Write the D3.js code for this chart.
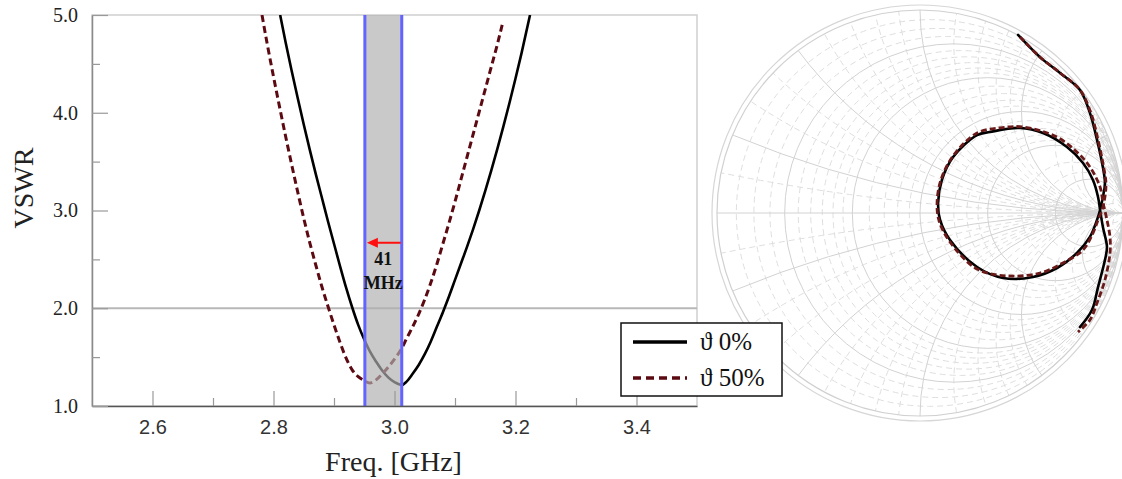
<!DOCTYPE html>
<html>
<head>
<meta charset="utf-8">
<script src="https://cdn.jsdelivr.net/npm/d3@7/dist/d3.min.js"></script>
<style>
  body { margin: 0; background: #fff; }
  svg { display: block; }
</style>
</head>
<body>
<div id="chart"></div>
<script>
// ---------- data ----------
const FREQ_SOLID = [2.811, 2.82, 2.83, 2.84, 2.85, 2.86, 2.87, 2.88, 2.89, 2.90, 2.91, 2.92, 2.93, 2.94, 2.95, 2.96, 2.97, 2.98, 2.99, 3.00, 3.012,
  3.02, 3.03, 3.04, 3.05, 3.06, 3.07, 3.08, 3.09, 3.10, 3.11, 3.12, 3.13, 3.14, 3.15, 3.16, 3.17, 3.18, 3.19, 3.20, 3.21, 3.224];
const VSWR_SOLID = [5.00, 4.72, 4.43, 4.15, 3.88, 3.62, 3.37, 3.13, 2.89, 2.66, 2.43, 2.21, 2.01, 1.83, 1.68, 1.55, 1.45, 1.36, 1.29, 1.245, 1.215,
  1.25, 1.33, 1.42, 1.53, 1.66, 1.81, 1.96, 2.12, 2.29, 2.46, 2.63, 2.81, 3.00, 3.20, 3.41, 3.63, 3.86, 4.10, 4.35, 4.61, 5.00];

const FREQ_DASH = [2.781, 2.79, 2.80, 2.81, 2.82, 2.83, 2.84, 2.85, 2.86, 2.87, 2.88, 2.89, 2.90, 2.91, 2.92, 2.93, 2.94, 2.95, 2.959,
  2.97, 2.98, 2.99, 3.00, 3.012, 3.02, 3.03, 3.04, 3.05, 3.06, 3.07, 3.08, 3.09, 3.10, 3.11, 3.12, 3.13, 3.14, 3.15, 3.16, 3.17, 3.178];
const VSWR_DASH = [5.00, 4.69, 4.37, 4.06, 3.76, 3.47, 3.19, 2.92, 2.67, 2.44, 2.22, 2.02, 1.83, 1.65, 1.49, 1.37, 1.30, 1.26, 1.235,
  1.27, 1.33, 1.40, 1.48, 1.59, 1.69, 1.81, 1.94, 2.09, 2.26, 2.45, 2.66, 2.87, 3.09, 3.32, 3.55, 3.78, 4.01, 4.24, 4.47, 4.70, 4.90];

const X_TICKS = [2.6, 2.8, 3.0, 3.2, 3.4];
const X_MINOR = [2.7, 2.9, 3.1, 3.3];
const Y_TICKS = [1, 2, 3, 4, 5];
const Y_MINOR = [1.5, 2.5, 3.5, 4.5];
const REF_VSWR = 2.0;

const BAND = [2.951, 3.012];
const ARROW_VSWR = 2.67;
const BAND_LABEL = ["41", "MHz"];

const LEGEND_LABELS = ["\u03D1 0%", "\u03D1 50%"];

// Smith chart traces, reflection coefficient (re, im)
const SMITH_SOLID_RE = [0.483, 0.591, 0.690, 0.788, 0.837, 0.872, 0.897, 0.911, 0.901, 0.887, 0.872, 0.837, 0.773, 0.675, 0.557, 0.409, 0.281, 0.148, 0.099, 0.089, 0.108, 0.163, 0.281, 0.345, 0.493, 0.606, 0.724, 0.803, 0.852, 0.877, 0.887, 0.901, 0.921, 0.911, 0.877, 0.847, 0.788];
const SMITH_SOLID_IM = [0.877, 0.768, 0.690, 0.606, 0.493, 0.360, 0.246, 0.148, 0.079, 0.015, -0.034, -0.118, -0.197, -0.271, -0.315, -0.320, -0.266, -0.133, -0.034, 0.049, 0.163, 0.276, 0.384, 0.399, 0.419, 0.394, 0.325, 0.246, 0.163, 0.079, 0.015, -0.069, -0.167, -0.232, -0.365, -0.478, -0.562];
const SMITH_DASH_RE = [0.493, 0.591, 0.690, 0.788, 0.842, 0.877, 0.901, 0.916, 0.911, 0.897, 0.877, 0.852, 0.803, 0.704, 0.591, 0.429, 0.281, 0.148, 0.094, 0.084, 0.103, 0.163, 0.281, 0.394, 0.507, 0.675, 0.773, 0.837, 0.887, 0.901, 0.921, 0.936, 0.936, 0.911, 0.872, 0.837, 0.778];
const SMITH_DASH_IM = [0.867, 0.768, 0.690, 0.606, 0.493, 0.360, 0.246, 0.148, 0.079, 0.015, -0.034, -0.099, -0.182, -0.246, -0.296, -0.310, -0.276, -0.143, -0.039, 0.049, 0.163, 0.281, 0.394, 0.419, 0.424, 0.374, 0.300, 0.227, 0.128, 0.054, -0.034, -0.118, -0.197, -0.330, -0.443, -0.527, -0.586];

// Smith grid values
const R_MAJOR = [0.2, 0.5, 1, 2, 5];
const R_MINOR = [0.05, 0.1, 0.15, 0.25, 0.3, 0.35, 0.4, 0.45, 0.6, 0.7, 0.8, 0.9, 1.2, 1.4, 1.6, 1.8, 3, 4, 10, 20];
const X_MAJOR = [0.2, 0.5, 1, 2, 5];
const X_MINOR_ARCS = [0.1, 0.3, 0.4, 0.6, 0.7, 0.8, 0.9, 1.2, 1.4, 1.6, 1.8, 3, 4, 10, 20];

// ---------- layout ----------
const W = 1122, H = 479;
const plot = { left: 92, right: 697, top: 15, bottom: 406 };
const smith = { cx: 920, cy: 213, r: 203 };

const SERIF = "'Liberation Serif', 'Times New Roman', serif";
const SANS = "'Liberation Sans', Arial, sans-serif";
const DASH_COLOR = "#5c0a12";

const svg = d3.select("#chart").append("svg")
  .attr("width", W)
  .attr("height", H);

const defs = svg.append("defs");

// ---------- Smith chart ----------
const sx = d3.scaleLinear().domain([-1, 1]).range([smith.cx - smith.r, smith.cx + smith.r]);
const sy = d3.scaleLinear().domain([-1, 1]).range([smith.cy + smith.r, smith.cy - smith.r]);
const sr = d3.scaleLinear().domain([0, 1]).range([0, smith.r]);

defs.append("clipPath").attr("id", "unit-clip")
  .append("circle")
  .attr("cx", sx(0)).attr("cy", sy(0)).attr("r", sr(1));

const smithG = svg.append("g");
const gridG = smithG.append("g").attr("clip-path", "url(#unit-clip)").attr("fill", "none");

function drawResistance(vals, dashed) {
  gridG.selectAll(null)
    .data(vals)
    .join("circle")
    .attr("cx", r => sx(r / (1 + r)))
    .attr("cy", sy(0))
    .attr("r", r => sr(1 / (1 + r)))
    .attr("stroke", dashed ? "#dedede" : "#d2d2d2")
    .attr("stroke-width", 1)
    .attr("stroke-dasharray", dashed ? "6,4" : null);
}

function drawReactance(vals, dashed) {
  const both = vals.flatMap(v => [v, -v]);
  gridG.selectAll(null)
    .data(both)
    .join("circle")
    .attr("cx", sx(1))
    .attr("cy", v => sy(1 / v))
    .attr("r", v => sr(1 / Math.abs(v)))
    .attr("stroke", dashed ? "#dedede" : "#d2d2d2")
    .attr("stroke-width", 1)
    .attr("stroke-dasharray", dashed ? "6,4" : null);
}

drawResistance(R_MINOR, true);
drawReactance(X_MINOR_ARCS, true);
drawResistance(R_MAJOR, false);
drawReactance(X_MAJOR, false);

gridG.append("line")
  .attr("x1", sx(-1)).attr("x2", sx(1))
  .attr("y1", sy(0)).attr("y2", sy(0))
  .attr("stroke", "#d2d2d2");

smithG.append("circle")
  .attr("cx", sx(0)).attr("cy", sy(0)).attr("r", sr(1))
  .attr("fill", "none").attr("stroke", "#d0d0d0").attr("stroke-width", 1.2);
smithG.append("circle")
  .attr("cx", sx(0)).attr("cy", sy(0)).attr("r", sr(1) + 5)
  .attr("fill", "none").attr("stroke", "#d6d6d6").attr("stroke-width", 1.2);

const smithLine = d3.line()
  .x(d => sx(d[0]))
  .y(d => sy(d[1]))
  .curve(d3.curveCatmullRom);

smithG.append("path")
  .datum(SMITH_SOLID_RE.map((re, i) => [re, SMITH_SOLID_IM[i]]))
  .attr("d", smithLine)
  .attr("fill", "none")
  .attr("stroke", "#000")
  .attr("stroke-width", 2.6)
  .attr("stroke-linecap", "round");

smithG.append("path")
  .datum(SMITH_DASH_RE.map((re, i) => [re, SMITH_DASH_IM[i]]))
  .attr("d", smithLine)
  .attr("fill", "none")
  .attr("stroke", "#6b1a1a")
  .attr("stroke-width", 2.8)
  .attr("stroke-dasharray", "6,3");

// ---------- VSWR plot ----------
const x = d3.scaleLinear().domain([2.5, 3.5]).range([plot.left, plot.right]);
const y = d3.scaleLinear().domain([1, 5]).range([plot.bottom, plot.top]);

defs.append("clipPath").attr("id", "plot-clip")
  .append("rect")
  .attr("x", plot.left).attr("y", plot.top)
  .attr("width", plot.right - plot.left)
  .attr("height", plot.bottom - plot.top);

const g = svg.append("g");

g.append("rect")
  .attr("x", plot.left).attr("y", plot.top)
  .attr("width", plot.right - plot.left)
  .attr("height", plot.bottom - plot.top)
  .attr("fill", "#fff")
  .attr("stroke", "#cfcfcf")
  .attr("stroke-width", 1.5);

g.append("line")
  .attr("x1", x(2.5)).attr("x2", x(3.5))
  .attr("y1", y(REF_VSWR)).attr("y2", y(REF_VSWR))
  .attr("stroke", "#b8b8b8")
  .attr("stroke-width", 2);

const curveG = g.append("g").attr("clip-path", "url(#plot-clip)");

const vswrLine = d3.line()
  .x(d => x(d[0]))
  .y(d => y(d[1]))
  .curve(d3.curveMonotoneX);

curveG.append("path")
  .datum(FREQ_SOLID.map((f, i) => [f, VSWR_SOLID[i]]))
  .attr("d", vswrLine)
  .attr("fill", "none")
  .attr("stroke", "#000")
  .attr("stroke-width", 2.6);

curveG.append("path")
  .datum(FREQ_DASH.map((f, i) => [f, VSWR_DASH[i]]))
  .attr("d", vswrLine)
  .attr("fill", "none")
  .attr("stroke", DASH_COLOR)
  .attr("stroke-width", 3)
  .attr("stroke-dasharray", "7,4");

// shaded band over the curves
g.append("rect")
  .attr("x", x(BAND[0]))
  .attr("y", y(5))
  .attr("width", x(BAND[1]) - x(BAND[0]))
  .attr("height", y(1) - y(5))
  .attr("fill", "rgb(175,175,175)")
  .attr("fill-opacity", 0.68);

g.selectAll("line.band-edge")
  .data(BAND)
  .join("line")
  .attr("class", "band-edge")
  .attr("x1", d => x(d)).attr("x2", d => x(d))
  .attr("y1", y(5)).attr("y2", y(1))
  .attr("stroke", "#6363ff")
  .attr("stroke-width", 3);

// arrow
const ay = y(ARROW_VSWR);
const ax0 = x(BAND[1]) - 1;
const ax1 = x(BAND[0]) + 2;
g.append("line")
  .attr("x1", ax0).attr("x2", ax1 + 8)
  .attr("y1", ay).attr("y2", ay)
  .attr("stroke", "#ff1010")
  .attr("stroke-width", 2);
g.append("path")
  .attr("d", `M${ax1},${ay} L${ax1 + 11},${ay - 5} L${ax1 + 11},${ay + 5} Z`)
  .attr("fill", "#ff1010");

const midBand = x((BAND[0] + BAND[1]) / 2);
g.selectAll("text.band-label")
  .data(BAND_LABEL)
  .join("text")
  .attr("class", "band-label")
  .attr("x", midBand)
  .attr("y", (d, i) => ay + 22 + i * 24)
  .attr("text-anchor", "middle")
  .style("font-family", SERIF)
  .style("font-weight", "bold")
  .style("font-size", "18px")
  .attr("fill", "#111")
  .text(d => d);

// axes
const xAxis = g.append("g")
  .attr("transform", `translate(0,${plot.bottom})`)
  .call(d3.axisBottom(x).tickValues(X_TICKS).tickSize(-15).tickSizeOuter(0).tickPadding(14).tickFormat(d3.format(".1f")));
xAxis.select(".domain").attr("stroke", "#555").attr("stroke-width", 1.5);
xAxis.selectAll(".tick line").attr("stroke", "#999").attr("stroke-width", 1.2);
xAxis.selectAll("text")
  .style("font-family", SANS)
  .style("font-size", "20px")
  .attr("fill", "#333");

g.append("g")
  .attr("transform", `translate(0,${plot.bottom})`)
  .call(d3.axisBottom(x).tickValues(X_MINOR).tickSize(-8).tickSizeOuter(0).tickFormat(""))
  .call(a => a.select(".domain").remove())
  .call(a => a.selectAll(".tick line").attr("stroke", "#999").attr("stroke-width", 1.2));

const yAxis = g.append("g")
  .attr("transform", `translate(${plot.left},0)`)
  .call(d3.axisLeft(y).tickValues(Y_TICKS).tickSize(-16).tickSizeOuter(0).tickPadding(14).tickFormat(d3.format(".1f")));
yAxis.select(".domain").attr("stroke", "#8a8a8a").attr("stroke-width", 1.5);
yAxis.selectAll(".tick line").attr("stroke", "#999").attr("stroke-width", 1.2);
yAxis.selectAll("text")
  .style("font-family", SERIF)
  .style("font-size", "20px")
  .attr("fill", "#222");

g.append("g")
  .attr("transform", `translate(${plot.left},0)`)
  .call(d3.axisLeft(y).tickValues(Y_MINOR).tickSize(-8).tickSizeOuter(0).tickFormat(""))
  .call(a => a.select(".domain").remove())
  .call(a => a.selectAll(".tick line").attr("stroke", "#999").attr("stroke-width", 1.2));

// axis titles
svg.append("text")
  .attr("x", (plot.left + plot.right) / 2 - 1)
  .attr("y", 471)
  .attr("text-anchor", "middle")
  .style("font-family", SERIF)
  .style("font-size", "28px")
  .attr("fill", "#222")
  .text("Freq. [GHz]");

svg.append("text")
  .attr("transform", `translate(33,188) rotate(-90)`)
  .attr("text-anchor", "middle")
  .style("font-family", SERIF)
  .style("font-size", "28px")
  .attr("fill", "#222")
  .text("VSWR");

// ---------- legend ----------
const legend = svg.append("g").attr("transform", "translate(621,323)");
legend.append("rect")
  .attr("width", 161).attr("height", 73)
  .attr("fill", "#fff")
  .attr("stroke", "#111")
  .attr("stroke-width", 1.5);

const legendRows = legend.selectAll("g.row")
  .data(LEGEND_LABELS)
  .join("g")
  .attr("class", "row")
  .attr("transform", (d, i) => `translate(0,${19 + i * 36})`);

legendRows.append("line")
  .attr("x1", 12).attr("x2", 66)
  .attr("stroke", (d, i) => i === 0 ? "#000" : DASH_COLOR)
  .attr("stroke-width", 3.5)
  .attr("stroke-dasharray", (d, i) => i === 0 ? null : "8,5");

legendRows.append("text")
  .attr("x", 79)
  .attr("y", 8)
  .style("font-family", SERIF)
  .style("font-size", "25px")
  .attr("fill", "#111")
  .text(d => d);
</script>
</body>
</html>
